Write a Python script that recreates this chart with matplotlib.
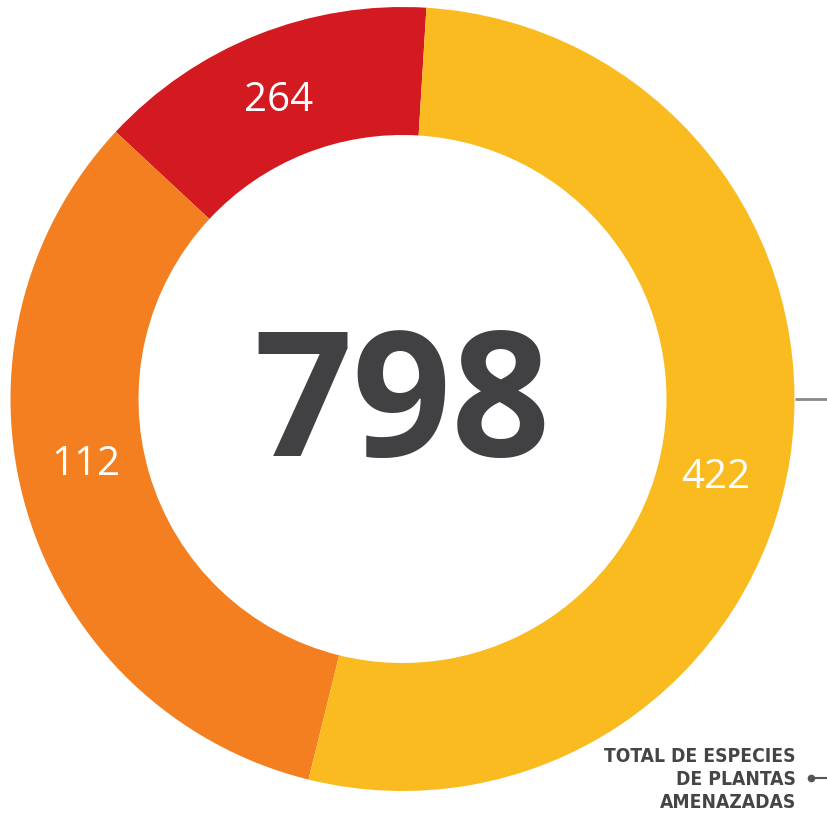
import matplotlib
matplotlib.use("Agg")
import matplotlib.pyplot as plt
import numpy as np

# data (segment sizes as drawn, and the labels printed on them)
segments = ["rojo", "naranja", "amarillo"]
sizes = [112, 264, 422]
labels = ["264", "112", "422"]
total_label = "798"
note_lines = ["TOTAL DE ESPECIES", "DE PLANTAS", "AMENAZADAS"]

colors = ["#D41A21", "#F47F20", "#F9BB1F"]

W, H = 828, 816
fig = plt.figure(figsize=(W / 100, H / 100), dpi=100)
ax = fig.add_axes([0, 0, 1, 1])

cx, cy = 402.5, H - 399
R, ring = 392, 128

ax.pie(sizes, colors=colors, startangle=86.5, counterclock=True,
       radius=R, center=(cx, cy), frame=True,
       wedgeprops=dict(width=ring, linewidth=0))
ax.set_xlim(0, W)
ax.set_ylim(0, H)
ax.set_aspect("equal")
ax.axis("off")

# label placement (layout)
label_angles = [112.6, 191.8, -14.1]
label_radius = 323
for lab, ang in zip(labels, label_angles):
    a = np.deg2rad(ang)
    ax.text(cx + label_radius * np.cos(a), cy + label_radius * np.sin(a), lab,
            ha="center", va="center", color="white", fontsize=29,
            family=["Open Sans", "DejaVu Sans"])

ax.text(cx, H - 390, total_label, ha="center", va="center_baseline",
        color="#414042", fontsize=125, fontweight="bold",
        family=["Open Sans", "DejaVu Sans"])

# connector line on the right
ax.plot([795, W], [H - 399, H - 399], color="#8a8a8a", lw=2, solid_capstyle="butt")

# note
for i, line in enumerate(note_lines):
    ax.text(796, H - (757 + i * 22.5), line, ha="right", va="center",
            color="#454545", fontsize=13.8, fontweight="bold",
            fontstretch="condensed", family=["DejaVu Sans"])
ax.plot([811, W], [H - 778, H - 778], color="#555555", lw=1.5)
ax.plot([811], [H - 778], "o", color="#555555", ms=4.5)

fig.savefig("out.png", dpi=100)
